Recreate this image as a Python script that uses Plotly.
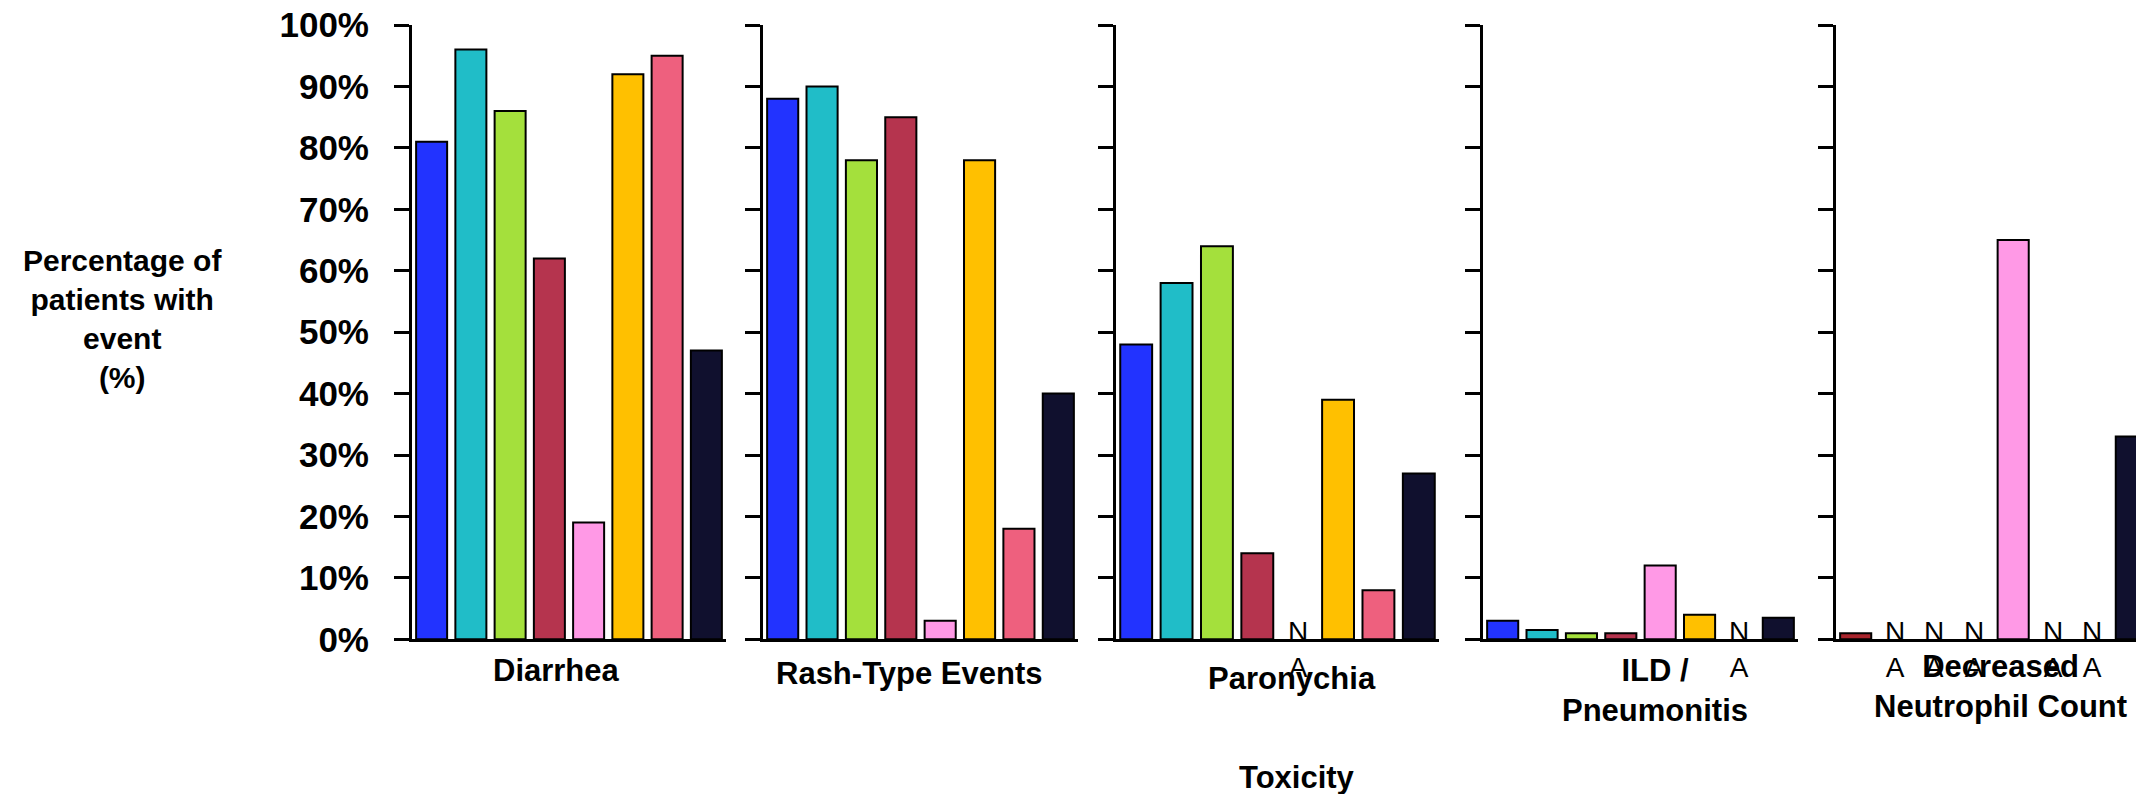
import plotly.graph_objects as go

# ---------------- data ----------------
toxicities = ["Diarrhea", "Rash-Type Events", "Paronychia", "ILD /<br>Pneumonitis", "Decreased<br>Neutrophil Count"]
slots = [0, 1, 2, 3, 4, 5, 6, 7]
diarrhea = [81, 96, 86, 62, 19, 92, 95, 47]
rash = [88, 90, 78, 85, 3, 78, 18, 40]
paronychia = [48, 58, 64, 14, None, 39, 8, 27]
ild = [3, 1.5, 1, 1, 12, 4, None, 3.5]
neutrophil = [1, None, None, None, 65, None, None, 33]
panel_values = [diarrhea, rash, paronychia, ild, neutrophil]
y_ticks = [0, 10, 20, 30, 40, 50, 60, 70, 80, 90, 100]
y_ticktext = [f"{v}%" for v in y_ticks]
na_text = "N<br>A"

# ---------------- style ----------------
series_colors = ["#2233FF", "#20BDC8", "#A4E03C", "#B5344E", "#FF99E6", "#FFC000", "#EE607E", "#10102E"]
neutro_colors = ["#A8242C"] + series_colors[1:]
panel_colors = [series_colors, series_colors, series_colors, series_colors, neutro_colors]

W, H = 2144, 794
OFF = 8  # page body margin offset
FONT = "Liberation Sans, Arial, sans-serif"
panel_px = [(412, 726), (763, 1078), (1116, 1439), (1483, 1798), (1836, 2151)]
y_top, y_bot = 25, 639.3
label_pos = [(556, 670), (909, 673), (1292, 678), (1655, 690), (2000, 686)]


def px(x):
    return (x - OFF) / W


def py(y):
    return (H - (y - OFF)) / H


y_dom = [py(y_bot), py(y_top)]

fig = go.Figure()
for i, (vals, cols) in enumerate(zip(panel_values, panel_colors)):
    n = i + 1
    xs = "x" if n == 1 else f"x{n}"
    ys = "y" if n == 1 else f"y{n}"
    fig.add_trace(go.Bar(
        x=slots, y=vals, xaxis=xs, yaxis=ys, width=0.79,
        marker=dict(color=cols, line=dict(color="black", width=2)),
        showlegend=False, hoverinfo="y",
    ))
    x0, x1 = panel_px[i]
    x1c = min(x1 - OFF, W)
    rng_end = -0.5 + 8 * (x1c - (x0 - OFF)) / (x1 - x0)
    fig.update_layout(**{
        ("xaxis" if n == 1 else f"xaxis{n}"): dict(
            domain=[px(x0), x1c / W], range=[-0.5, rng_end], anchor=ys,
            showticklabels=False, ticks="", showgrid=False, zeroline=False,
            automargin=False,
            showline=True, linewidth=3, linecolor="black", fixedrange=True),
        ("yaxis" if n == 1 else f"yaxis{n}"): dict(
            domain=y_dom, range=[0, 100], anchor=xs,
            tickvals=y_ticks, ticktext=y_ticktext, showticklabels=(n == 1),
            ticks="outside", ticklen=15, tickwidth=3, tickcolor="black",
            tickfont=dict(family=FONT, size=35, color="black", weight="bold"),
            ticklabelstandoff=18, ticklabeloverflow="allow", automargin=False,
            showgrid=False, zeroline=False,
            showline=True, linewidth=3, linecolor="black", fixedrange=True),
    })
    # N/A markers
    for j, v in zip(slots, vals):
        if v is None:
            fig.add_annotation(x=j, y=0, xref=xs, yref=ys, text=na_text, showarrow=False,
                               yanchor="middle", yshift=-10,
                               font=dict(family=FONT, size=28, color="black"))
    # category label
    lx, ly = label_pos[i]
    fig.add_annotation(x=px(lx), y=py(ly), xref="paper", yref="paper",
                       text=toxicities[i], showarrow=False, xanchor="center", yanchor="middle",
                       font=dict(family=FONT, size=31, color="black", weight="bold"))

# axis titles
fig.add_annotation(x=px(122), y=py(319), xref="paper", yref="paper",
                   text="Percentage of<br>patients with<br>event<br>(%)", showarrow=False,
                   xanchor="center", yanchor="middle",
                   font=dict(family=FONT, size=30, color="black", weight="bold"))
fig.add_annotation(x=px(1297), y=py(777), xref="paper", yref="paper",
                   text="Toxicity", showarrow=False, xanchor="center", yanchor="middle",
                   font=dict(family=FONT, size=31, color="black", weight="bold"))

fig.update_layout(template="none", width=W, height=H, margin=dict(l=0, r=0, t=0, b=0, pad=0),
                  paper_bgcolor="white", plot_bgcolor="white", bargap=0.21)

fig.write_html("out.html")
